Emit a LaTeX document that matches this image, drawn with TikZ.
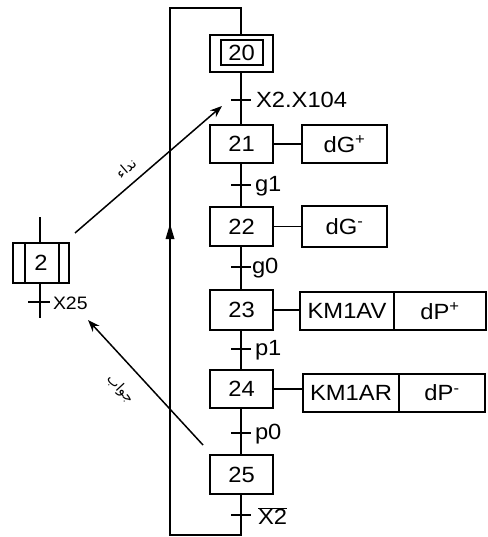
\documentclass[tikz,border=0pt]{standalone}
\usepackage{fontspec}
\setmainfont{Liberation Sans}[FakeStretch=1.08]
\newfontfamily\arabicfont[Script=Arabic]{DejaVu Sans}
\TeXXeTstate=1
\usetikzlibrary{arrows.meta}
\begin{document}
\begin{tikzpicture}[x=1pt,y=-1pt,
  every node/.style={inner sep=0pt, outer sep=0pt},
  stepbox/.style={draw, line width=2pt, minimum width=63pt, minimum height=38pt, font=\fontsize{22}{22}\selectfont},
  actbox/.style={draw, line width=2pt, minimum height=38pt, font=\fontsize{22}{22}\selectfont},
  lnk/.style={line width=1.5pt},
  trlabel/.style={anchor=west, font=\fontsize{22}{22}\selectfont},
  arr/.style={line width=1.5pt, -{Stealth[length=12pt,width=9pt]}},
  arlabel/.style={font=\arabicfont\fontsize{14}{14}\selectfont}
]
\useasboundingbox (0,0) rectangle (487,537);

% steps
\node[stepbox, minimum height=37pt] (s20) at (241.5,53.5) {};
\node[draw, line width=2pt, minimum width=42pt, minimum height=25pt, font=\fontsize{22}{22}\selectfont] (s20i) at (241.5,53) {20};
\node[stepbox] (s21) at (241.5,144) {21};
\node[stepbox, minimum height=39pt] (s22) at (241.5,226.5) {22};
\node[stepbox, minimum height=40pt] (s23) at (241.5,310) {23};
\node[stepbox] (s24) at (241.5,389) {24};
\node[stepbox, minimum height=39pt] (s25) at (241.5,474.5) {25};

% actions
\node[actbox, minimum width=85pt] (a21) at (344.5,144) {dG\textsuperscript{+}};
\node[actbox, minimum width=85pt, minimum height=41pt] (a22) at (344.5,226.5) {dG\textsuperscript{-}};
\node[actbox, minimum width=94pt, anchor=west] (a23a) at (300,311) {KM1AV};
\node[actbox, minimum width=92pt, anchor=west] (a23b) at (a23a.east) {dP\textsuperscript{+}};
\node[actbox, minimum width=96pt, anchor=west] (a24a) at (303,393) {KM1AR};
\node[actbox, minimum width=86pt, anchor=west] (a24b) at (a24a.east) {dP\textsuperscript{-}};

\draw[lnk] (s21.east) -- (a21.west);
\draw[lnk] (s22.east) -- (a22.west);
\draw[lnk] (s23.east) -- (s23.east -| a23a.west);
\draw[lnk] (s24.east) -- (s24.east -| a24a.west);

% transitions
\coordinate (t20) at (241,100);
\coordinate (t21) at (241,185);
\coordinate (t22) at (241,267);
\coordinate (t23) at (241,349);
\coordinate (t24) at (241,433);
\coordinate (t25) at (241,515);

\draw[lnk] (s20.south -| t20) -- (s21.north -| t20);
\draw[lnk] (s21.south -| t20) -- (s22.north -| t20);
\draw[lnk] (s22.south -| t20) -- (s23.north -| t20);
\draw[lnk] (s23.south -| t20) -- (s24.north -| t20);
\draw[lnk] (s24.south -| t20) -- (s25.north -| t20);

\foreach \t in {t20,t21,t22,t23,t24,t25}
  \draw[line width=2pt] ([xshift=-10pt]\t) -- ([xshift=10pt]\t);

\node[trlabel] (l20) at (256,100) {X2.X104};
\node[trlabel] (l21) at (255,186) {g1};
\node[trlabel] (l22) at (252,268) {g0};
\node[trlabel] (l23) at (255,350) {p1};
\node[trlabel] (l24) at (255,434) {p0};
\node[trlabel] (l25) at (258,516) {$\overline{\hbox{X2}}$};

% loop back
\coordinate (lb) at (241,535);
\coordinate (ll) at (170,535);
\coordinate (tl) at (170,8);
\coordinate (tr) at (241,8);
\draw[lnk] (s25.south -| t20) -- (lb) -- (ll) -- (tl) -- (tr) -- (s20.north -| tr);
\coordinate (ar) at (170,232);
\fill ([yshift=8pt]ar) -- ([xshift=-4.5pt,yshift=-7pt]ar) -- ([xshift=4.5pt,yshift=-7pt]ar) -- cycle;

% step 2
\node[draw, line width=2pt, minimum width=56pt, minimum height=40pt, font=\fontsize{22}{22}\selectfont] (s2) at (41,263) {2};
\draw[line width=2pt] ([xshift=12pt]s2.north west) -- ([xshift=12pt]s2.south west);
\draw[line width=2pt] ([xshift=-10pt]s2.north east) -- ([xshift=-10pt]s2.south east);
\coordinate (s2top) at (40,217);
\coordinate (s2bot) at (40,318);
\coordinate (tx25) at (40,302);
\draw[lnk] (s2top) -- (s2top |- s2.north);
\draw[lnk] (s2top |- s2.south) -- (s2bot);
\draw[line width=2pt] ([xshift=-12pt]tx25) -- ([xshift=10pt]tx25);
\node[anchor=west, font=\fontsize{18}{18}\selectfont] (l2) at (53,303) {X25};

% call / answer arrows
\coordinate (c1) at (75,233);
\coordinate (c2) at (222,106);
\draw[arr] (c1) -- (c2);
\node[arlabel, rotate=41] (call) at (126,168) {\beginR نداء\endR};
\coordinate (r1) at (203,445);
\coordinate (r2) at (88,320);
\draw[arr] (r1) -- (r2);
\node[arlabel, rotate=-47] (ans) at (120,389) {\beginR جواب\endR};
\end{tikzpicture}
\end{document}
